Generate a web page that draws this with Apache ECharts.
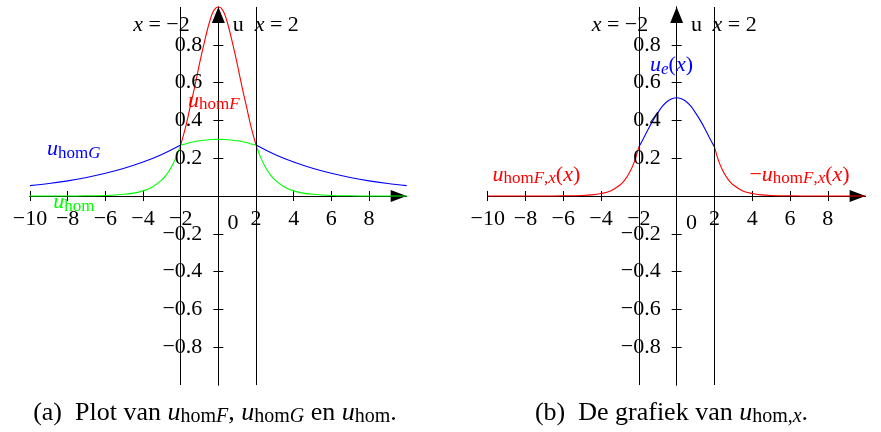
<!DOCTYPE html>
<html>
<head>
<meta charset="utf-8">
<script src="https://cdn.jsdelivr.net/npm/echarts@6/dist/echarts.min.js"></script>
<style>
  html, body { margin: 0; padding: 0; background: #fff; }
  #chart { width: 881px; height: 432px; }
</style>
</head>
<body>
<div id="chart"></div>
<script>
// ---- sample positions ----
const xCore = [-2, -1.75, -1.5, -1.25, -1, -0.75, -0.5, -0.25, 0, 0.25, 0.5, 0.75, 1, 1.25, 1.5, 1.75, 2];
const xTailLeft = [-10, -9, -8, -7, -6, -5, -4.5, -4, -3.5, -3, -2.75, -2.5, -2.25, -2];
const xTailRight = [2, 2.25, 2.5, 2.75, 3, 3.5, 4, 4.5, 5, 6, 7, 8, 9, 10];
const xWideLeft = [-10, -9, -8, -7, -6, -5, -4, -3, -2];
const xWideRight = [2, 3, 4, 5, 6, 7, 8, 9, 10];

// ---- panel (a): u_homF, u_homG, u_hom ----
const uHomF = [0.27, 0.36, 0.47, 0.58, 0.70, 0.81, 0.91, 0.98, 1.00, 0.98, 0.91, 0.81, 0.70, 0.58, 0.47, 0.36, 0.27];
const uHomGLeft = [0.055, 0.066, 0.080, 0.098, 0.120, 0.147, 0.180, 0.220, 0.27];
const uHomGRight = [0.27, 0.220, 0.180, 0.147, 0.120, 0.098, 0.080, 0.066, 0.055];
const uHomLeft = [0, 0, 0, 0.001, 0.003, 0.009, 0.015, 0.027, 0.048, 0.085, 0.114, 0.152, 0.203, 0.27];
const uHomCore = [0.27, 0.275, 0.283, 0.288, 0.292, 0.295, 0.298, 0.299, 0.30, 0.299, 0.298, 0.295, 0.292, 0.288, 0.283, 0.275, 0.27];
const uHomRight = [0.27, 0.203, 0.152, 0.114, 0.085, 0.048, 0.027, 0.015, 0.009, 0.003, 0.001, 0, 0, 0];

// ---- panel (b): u_hom,x ----
const uE = [0.26, 0.306, 0.355, 0.40, 0.44, 0.475, 0.50, 0.514, 0.52, 0.514, 0.50, 0.475, 0.44, 0.40, 0.355, 0.306, 0.26];
const uHomFxLeft = [0, 0, 0, 0, 0.001, 0.003, 0.006, 0.013, 0.027, 0.058, 0.084, 0.123, 0.178, 0.26];
const uHomFxRight = [0.26, 0.178, 0.123, 0.084, 0.058, 0.027, 0.013, 0.006, 0.003, 0.001, 0, 0, 0, 0];

// ---- ticks ----
const xTickMarks = [-10, -8, -6, -4, -2, 0, 2, 4, 6, 8];
const xTickLabels = [-10, -8, -6, -4, -2, 2, 4, 6, 8];
const yTickLabels = [-0.8, -0.6, -0.4, -0.2, 0.2, 0.4, 0.6, 0.8];

const FONT = '"Liberation Serif", "DejaVu Serif", serif';
const RED = '#ff0000', BLUE = '#0000ff', GREEN = '#00ff00';
const TEXT_SIZE = 22;

const pts = (xs, ys) => xs.map((x, i) => [x, ys[i]]);
const minus = s => String(s).replace('-', '\u2212');

function rich(color, size) {
  const sub = Math.round(size * 0.75);
  return {
    i: { fontFamily: FONT, fontStyle: 'italic', fontSize: size, lineHeight: size + 2, color },
    r: { fontFamily: FONT, fontSize: size, lineHeight: size + 2, color },
    s: { fontFamily: FONT, fontSize: sub, lineHeight: sub, verticalAlign: 'bottom', color },
    si: { fontFamily: FONT, fontStyle: 'italic', fontSize: sub, lineHeight: sub, verticalAlign: 'bottom', color }
  };
}

function axesFor(g) {
  const xBase = {
    gridIndex: g, type: 'value', min: -10, max: 10, interval: 2,
    splitLine: { show: false }, axisLabel: { show: false }
  };
  const yBase = {
    gridIndex: g, type: 'value', min: -1, max: 1, interval: 0.2,
    splitLine: { show: false }, axisLabel: { show: false }
  };
  const tick = values => ({ show: true, length: 5, customValues: values, lineStyle: { color: '#000', width: 1 } });
  const x = [
    Object.assign({}, xBase, {
      position: 'bottom',
      axisLine: { onZero: true, lineStyle: { color: '#000', width: 1 },
        symbol: ['none', 'triangle'], symbolSize: [12, 16], symbolOffset: [0, -8] },
      axisTick: tick(xTickMarks)
    }),
    Object.assign({}, xBase, {
      position: 'top',
      axisLine: { onZero: true, lineStyle: { color: '#000', width: 1 } },
      axisTick: tick(xTickMarks)
    })
  ];
  const y = [
    Object.assign({}, yBase, {
      position: 'left',
      axisLine: { onZero: true, lineStyle: { color: '#000', width: 1 },
        symbol: ['none', 'triangle'], symbolSize: [13, 16], symbolOffset: [0, -8] },
      axisTick: tick(yTickLabels)
    }),
    Object.assign({}, yBase, {
      position: 'right',
      axisLine: { onZero: true, lineStyle: { color: '#000', width: 1 } },
      axisTick: tick(yTickLabels)
    })
  ];
  return { x, y };
}

const A = axesFor(0), B = axesFor(1);

function curve(g, data, color, extra) {
  return Object.assign({
    type: 'line', xAxisIndex: 2 * g, yAxisIndex: 2 * g, data,
    showSymbol: false, symbol: 'none', smooth: 0.35, silent: true,
    lineStyle: { color, width: 1.1 }, z: 3
  }, extra || {});
}

const boundaries = {
  silent: true, symbol: ['none', 'none'],
  label: { show: false },
  lineStyle: { color: '#000', type: 'solid', width: 1 },
  data: [{ xAxis: -2 }, { xAxis: 2 }]
};

// text anchored to data coordinates
function note(x, y, text, color, align) {
  return {
    value: [x, y],
    label: {
      show: true, position: 'inside', align: align || 'center', verticalAlign: 'middle',
      formatter: text, color, opacity: 1, fontFamily: FONT, fontSize: TEXT_SIZE, lineHeight: TEXT_SIZE + 2,
      rich: rich(color, TEXT_SIZE)
    }
  };
}

function notes(g, items) {
  return {
    type: 'scatter', xAxisIndex: 2 * g, yAxisIndex: 2 * g,
    symbolSize: 0, silent: true, z: 5, itemStyle: { opacity: 1 }, data: items
  };
}

// tick labels placed at the tick values on the crossing axes
function tickLabels(g) {
  const common = { show: true, color: '#000', opacity: 1, fontFamily: FONT, fontSize: TEXT_SIZE, lineHeight: TEXT_SIZE };
  const xs = xTickLabels.map(v => ({
    value: [v, 0],
    label: Object.assign({}, common, { position: 'bottom', distance: 12, formatter: minus(v) })
  }));
  const ys = yTickLabels.map(v => ({
    value: [0, v],
    label: Object.assign({}, common, { position: 'left', distance: 16, formatter: minus(v.toFixed(1)) })
  }));
  return {
    type: 'scatter', xAxisIndex: 2 * g, yAxisIndex: 2 * g,
    symbolSize: 0, silent: true, z: 4, itemStyle: { opacity: 1 }, data: xs.concat(ys)
  };
}

const CAPTION = 26;
const option = {
  animation: false,
  backgroundColor: '#fff',
  grid: [
    { left: 30, top: 7, width: 376.7, height: 378, outerBoundsMode: 'none' },
    { left: 487.7, top: 7, width: 377.9, height: 378, outerBoundsMode: 'none' }
  ],
  xAxis: A.x.concat(B.x),
  yAxis: A.y.concat(B.y),
  title: [
    {
      text: '(a)\u2002Plot van {i|u}{s|hom}{si|F}, {i|u}{s|hom}{si|G} en {i|u}{s|hom}.',
      left: 215, top: 399, textAlign: 'center', padding: 0,
      textStyle: { fontFamily: FONT, fontSize: CAPTION, fontWeight: 'normal', color: '#000', lineHeight: CAPTION + 2,
        rich: rich('#000', CAPTION) }
    },
    {
      text: '(b)\u2002De grafiek van {i|u}{s|hom,}{si|x}.',
      left: 671.5, top: 399, textAlign: 'center', padding: 0,
      textStyle: { fontFamily: FONT, fontSize: CAPTION, fontWeight: 'normal', color: '#000', lineHeight: CAPTION + 2,
        rich: rich('#000', CAPTION) }
    }
  ],
  series: [
    // panel (a)
    curve(0, pts(xWideLeft, uHomGLeft), BLUE, { markLine: boundaries }),
    curve(0, pts(xWideRight, uHomGRight), BLUE),
    curve(0, pts(xTailLeft, uHomLeft), GREEN),
    curve(0, pts(xCore, uHomCore), GREEN),
    curve(0, pts(xTailRight, uHomRight), GREEN),
    curve(0, pts(xCore, uHomF), RED),
    tickLabels(0),
    notes(0, [
      note(-3.02, 0.905, '{i|x}{r| = \u22122}', '#000'),
      note(1.05, 0.905, 'u', '#000'),
      note(3.1, 0.905, '{i|x}{r| = 2}', '#000'),
      note(-1.61, 0.50, '{i|u}{s|hom}{si|F}', RED, 'left'),
      note(-9.1, 0.245, '{i|u}{s|hom}{si|G}', BLUE, 'left'),
      note(-8.76, -0.035, '{i|u}{s|hom}', GREEN, 'left'),
      note(0.78, -0.146, '0', '#000'),
      note(10.28, 0.095, 'x', '#000')
    ]),
    // panel (b)
    curve(1, pts(xTailLeft, uHomFxLeft), RED, { markLine: boundaries }),
    curve(1, pts(xTailRight, uHomFxRight), RED),
    curve(1, pts(xCore, uE), BLUE),
    tickLabels(1),
    notes(1, [
      note(-3.0, 0.905, '{i|x}{r| = \u22122}', '#000'),
      note(1.05, 0.905, 'u', '#000'),
      note(3.07, 0.905, '{i|x}{r| = 2}', '#000'),
      note(-1.41, 0.69, '{i|u}{si|e}{r|(}{i|x}{r|)}', BLUE, 'left'),
      note(-9.75, 0.11, '{i|u}{s|hom}{si|F}{s|,}{si|x}{r|(}{i|x}{r|)}', RED, 'left'),
      note(3.85, 0.11, '{r|\u2212}{i|u}{s|hom}{si|F}{s|,}{si|x}{r|(}{i|x}{r|)}', RED, 'left'),
      note(0.79, -0.146, '0', '#000'),
      note(10.31, 0.095, 'x', '#000')
    ])
  ]
};

echarts.init(document.getElementById('chart'), null, { renderer: 'canvas' }).setOption(option);
</script>
</body>
</html>
